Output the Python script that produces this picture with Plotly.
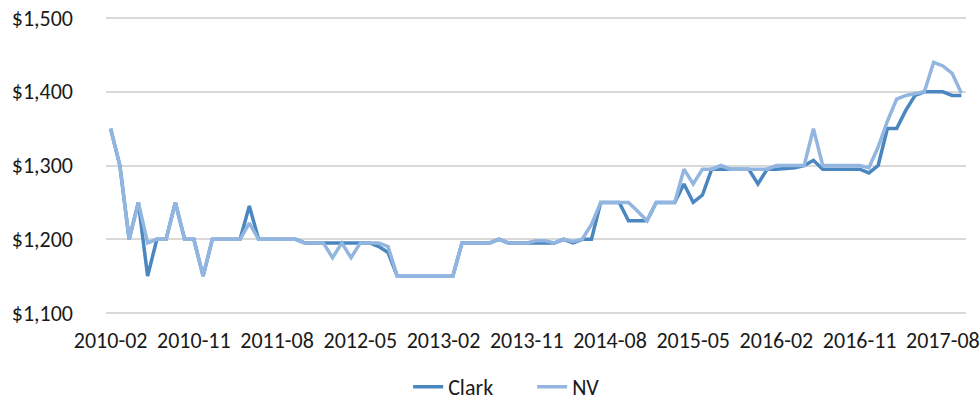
import pandas as pd
import plotly.graph_objects as go

months = [p.strftime("%Y-%m") for p in pd.period_range("2010-02", "2017-10", freq="M")]

clark = [1350, 1300, 1200, 1250, 1150, 1200, 1200, 1250, 1200, 1200,
         1150, 1200, 1200, 1200, 1200, 1245, 1200, 1200, 1200, 1200,
         1200, 1195, 1195, 1195, 1195, 1195, 1195, 1195, 1195, 1190,
         1182, 1150, 1150, 1150, 1150, 1150, 1150, 1150, 1195, 1195,
         1195, 1195, 1200, 1195, 1195, 1195, 1195, 1196, 1195, 1200,
         1195, 1200, 1200, 1250, 1250, 1250, 1225, 1225, 1225, 1250,
         1250, 1250, 1275, 1250, 1260, 1295, 1295, 1295, 1295, 1295,
         1275, 1295, 1295, 1296, 1297, 1300, 1307, 1295, 1295, 1295,
         1295, 1295, 1290, 1300, 1350, 1350, 1375, 1395, 1400, 1400,
         1400, 1395, 1395]

nv = [1350, 1300, 1200, 1250, 1195, 1200, 1200, 1250, 1200, 1200,
      1150, 1200, 1200, 1200, 1200, 1222, 1200, 1200, 1200, 1200,
      1200, 1195, 1195, 1195, 1175, 1195, 1175, 1195, 1195, 1195,
      1190, 1150, 1150, 1150, 1150, 1150, 1150, 1150, 1195, 1195,
      1195, 1195, 1200, 1195, 1195, 1195, 1198, 1198, 1195, 1200,
      1197, 1200, 1220, 1250, 1250, 1250, 1250, 1238, 1225, 1250,
      1250, 1250, 1295, 1275, 1295, 1295, 1300, 1295, 1295, 1295,
      1295, 1295, 1300, 1300, 1300, 1300, 1350, 1300, 1300, 1300,
      1300, 1300, 1297, 1325, 1360, 1390, 1395, 1398, 1400, 1440,
      1435, 1425, 1398]

y_ticks = [1100, 1200, 1300, 1400, 1500]
x_tick_idx = list(range(0, len(months), 9))
x_tick_labels = [months[i] for i in x_tick_idx]

FONT = "Carlito, Calibri, Lato, 'Liberation Sans', sans-serif"

fig = go.Figure()
fig.add_trace(go.Scatter(x=months, y=clark, name="Clark", mode="lines",
                         line=dict(color="#4a86c0", width=3.5)))
fig.add_trace(go.Scatter(x=months, y=nv, name="NV", mode="lines",
                         line=dict(color="#92b6df", width=3.5)))

# y range padded slightly so the edge gridlines ($1,100 and $1,500) are drawn
fig.update_layout(
    width=980, height=404,
    margin=dict(l=106, r=14, t=16, b=89, autoexpand=False),
    paper_bgcolor="white", plot_bgcolor="white",
    font=dict(family=FONT, size=22, color="#1a1a1a"),
    showlegend=True,
    legend=dict(orientation="h", x=0.543, xref="container", xanchor="center",
                y=0.042, yref="container", yanchor="middle",
                font=dict(size=22), entrywidth=79, entrywidthmode="pixels"),
    xaxis=dict(type="category", range=[-0.5, len(months) - 0.5],
               tickmode="array", tickvals=x_tick_labels,
               ticktext=x_tick_labels, tickangle=0, automargin=False,
               showgrid=False, zeroline=False, showline=False,
               ticks="", ticklabelstandoff=10, ticklabeloverflow="allow"),
    yaxis=dict(range=[1097.29, 1502.71], tickvals=y_ticks, tickformat="$,.0f",
               showgrid=True, gridcolor="#d9d9d9", gridwidth=1.5,
               zeroline=False, showline=False, ticks="", automargin=False,
               ticklabelstandoff=32, ticklabeloverflow="allow"),
)

fig.write_html("out.html", config={"displayModeBar": False},
               post_script="document.body.style.margin='0';document.body.style.overflow='hidden';")
